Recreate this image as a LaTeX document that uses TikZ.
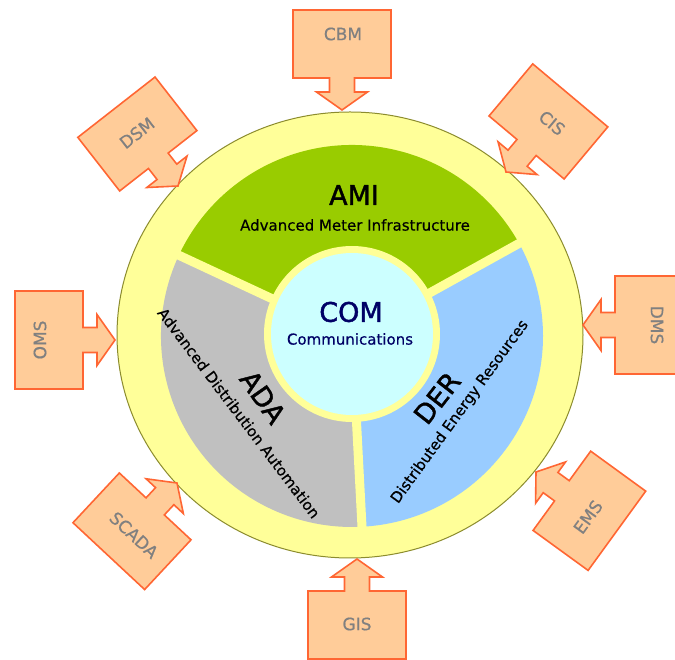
\documentclass[tikz,border=0pt]{standalone}
\usepackage{fontspec}
\setmainfont{DejaVu Sans}
\begin{document}
\begin{tikzpicture}[x=1pt,y=1pt,
  feedline/.style={fill=feedfill,draw=feeddraw,line width=1.6pt,line join=miter},
  feedtext/.style={text=feedgray,font=\fontsize{17}{17}\selectfont\addfontfeature{FakeBold=0.6},inner sep=0pt},
  bigtitle/.style={font=\fontsize{27}{27}\selectfont\addfontfeature{FakeBold=1.5},inner sep=0pt},
  subtitle/.style={font=\fontsize{15}{15}\selectfont\addfontfeature{FakeBold=0.5},inner sep=0pt},
  gapline/.style={draw=ringyellow,line width=9pt},
  feeder/.pic={\draw[feedline] (0,0) -- (25.5,18) -- (12.5,18) -- (12.5,32) -- (49,32) -- (49,100) -- (-49,100) -- (-49,32) -- (-12.5,32) -- (-12.5,18) -- (-25.5,18) -- cycle;}]
\definecolor{ringyellow}{HTML}{FFFF99}
\definecolor{ringedge}{HTML}{8C8C2E}
\definecolor{amigreen}{HTML}{99CC00}
\definecolor{adagray}{HTML}{C0C0C0}
\definecolor{derblue}{HTML}{99CCFF}
\definecolor{comcyan}{HTML}{CCFFFF}
\definecolor{comnavy}{HTML}{000066}
\definecolor{feedfill}{HTML}{FFCC99}
\definecolor{feeddraw}{HTML}{FF6633}
\definecolor{feedgray}{HTML}{808080}
\fill[white] (0,0) rectangle (675,659);
\useasboundingbox (0,0) rectangle (675,659);
\fill[ringyellow,draw=ringedge,line width=1pt] (350,324) ellipse[x radius=233,y radius=223];
\coordinate (hub) at (352,323);
\fill[amigreen] (hub) -- ++(29:191) arc[start angle=29,end angle=155,radius=191] -- cycle;
\fill[adagray] (hub) -- ++(155:191) arc[start angle=155,end angle=273,radius=191] -- cycle;
\fill[derblue] (hub) -- ++(273:191) arc[start angle=273,end angle=389,radius=191] -- cycle;
\draw[gapline] (hub) -- ++(29:200);
\draw[gapline] (hub) -- ++(155:200);
\draw[gapline] (hub) -- ++(273:200);
\fill[ringyellow] (352,325) circle[radius=88];
\fill[comcyan] (352,325) circle[radius=81];
\node[bigtitle] (amititle) at (354,464) {AMI};
\node[subtitle] (amisub) at (355,434) {Advanced Meter Infrastructure};
\node[bigtitle,text=comnavy] (comtitle) at (351,347) {COM};
\node[subtitle,text=comnavy] (comsub) at (350,320) {Communications};
\node[bigtitle,rotate=-55] (adatitle) at (263,262) {ADA};
\node[subtitle,rotate=-53] (adasub) at (239,246) {Advanced Distribution Automation};
\node[bigtitle,rotate=52] (dertitle) at (437,261) {DER};
\node[subtitle,rotate=54] (dersub) at (460,247) {Distributed Energy Resources};
\coordinate (cbmtip) at (342,549);
\coordinate (cistip) at (506,487);
\coordinate (dmstip) at (583,334);
\coordinate (emstip) at (536,187);
\coordinate (gistip) at (357,100);
\coordinate (scadatip) at (177,176);
\coordinate (omstip) at (115,319);
\coordinate (dsmtip) at (178,473);
\pic at (cbmtip) {feeder};
\pic[rotate=-40] at (cistip) {feeder};
\pic[rotate=-90] at (dmstip) {feeder};
\pic[rotate=234] at (emstip) {feeder};
\pic[rotate=180] at (gistip) {feeder};
\pic[rotate=137] at (scadatip) {feeder};
\pic[rotate=90] at (omstip) {feeder};
\pic[rotate=38] at (dsmtip) {feeder};
\node[feedtext] (cbm) at (343,625) {CBM};
\node[feedtext,rotate=-40] (cis) at (552,536) {CIS};
\node[feedtext,rotate=-90] (dms) at (657,334) {DMS};
\node[feedtext,rotate=54] (ems) at (588,142) {EMS};
\node[feedtext] (gis) at (357,35) {GIS};
\node[feedtext,rotate=-43] (scada) at (134,124) {SCADA};
\node[feedtext,rotate=90] (oms) at (40,319) {OMS};
\node[feedtext,rotate=38] (dsm) at (137,526) {DSM};
\end{tikzpicture}
\end{document}
